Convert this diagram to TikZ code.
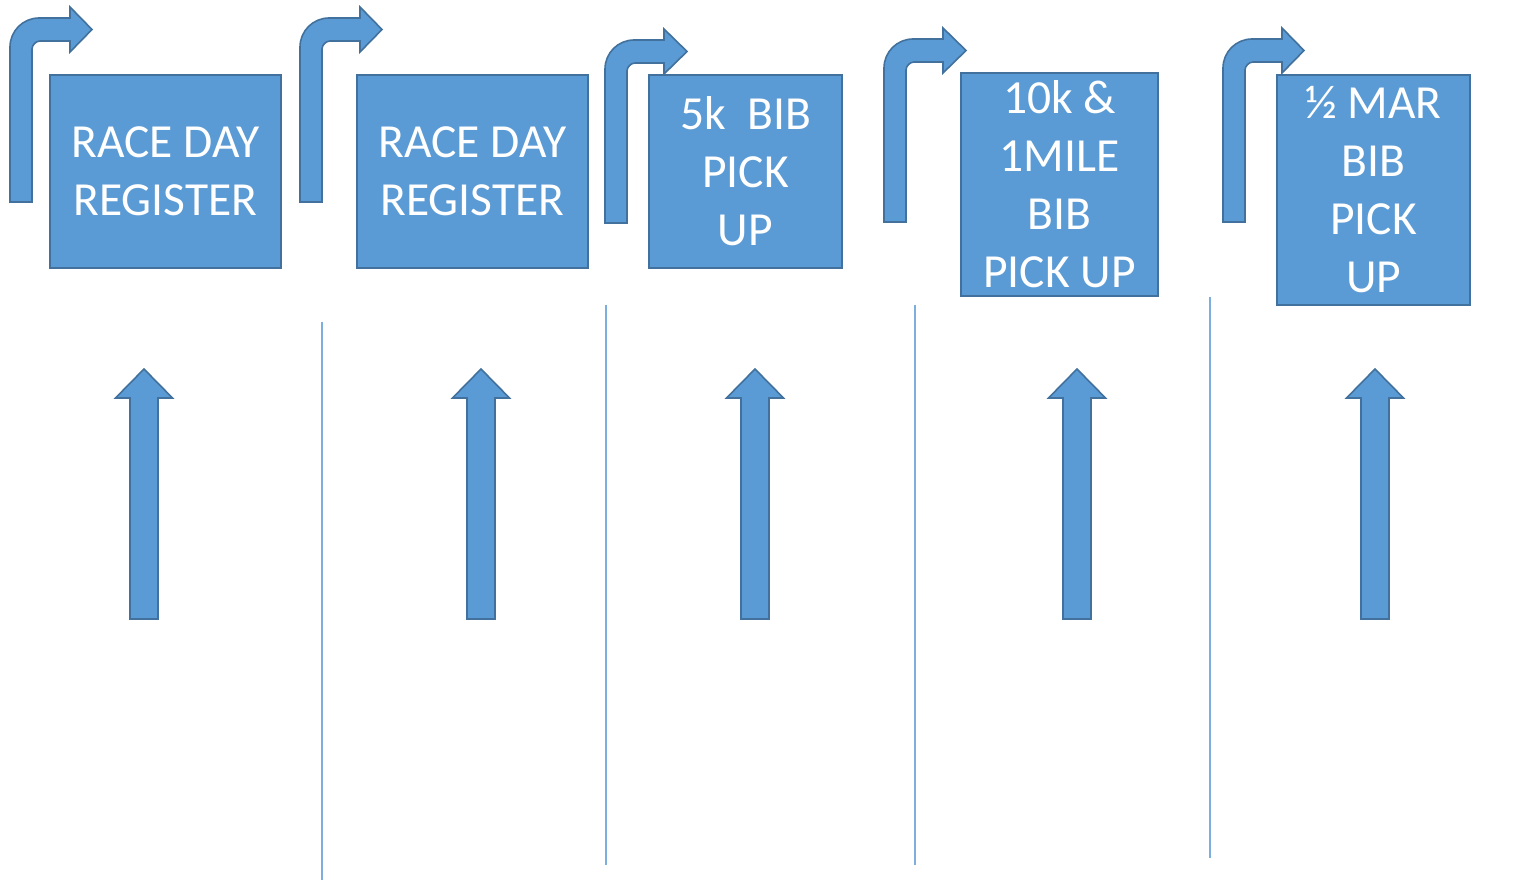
\documentclass[tikz,border=0pt]{standalone}
\usepackage{fontspec}
\setmainfont{Carlito}
\definecolor{boxfill}{HTML}{5B9BD5}
\definecolor{boxline}{HTML}{41719C}
\tikzset{
  box/.style={draw=boxline, fill=boxfill, line width=1.6pt, text=white, align=center,
    font=\fontsize{47.5}{58}\selectfont, inner sep=0pt},
  blockarrow/.style={draw=boxline, fill=boxfill, line width=1.6pt, line join=miter},
  divider/.style={draw=boxfill!80!white, line width=1.1pt}
}
% bent arrow: #1 stem left x, #2 bottom y, #3 shaft top y, #4 head base x, #5 tip x
\newcommand\bentarr[5]{%
  \path[blockarrow] (#1,#2) -- (#1,{#3+29})
    .. controls (#1,{#3+13}) and ({#1+13},#3) .. ({#1+29},#3)
    -- (#4,#3) -- (#4,{#3-11}) -- (#5,{#3+11.5}) -- (#4,{#3+34}) -- (#4,{#3+23})
    -- ({#1+30},{#3+23}) .. controls ({#1+26},{#3+23}) and ({#1+22},{#3+27}) .. ({#1+22},{#3+31})
    -- ({#1+22},#2) -- cycle;}
% up arrow: #1 centre x
\newcommand\uparr[1]{%
  \path[blockarrow] ({#1-14},619) -- ({#1-14},398) -- ({#1-28.5},398) -- (#1,369)
    -- ({#1+28.5},398) -- ({#1+14},398) -- ({#1+14},619) -- cycle;}
\begin{document}
\begin{tikzpicture}[x=1pt,y=-1pt]
\useasboundingbox (0,0) rectangle (1527,880);
% dividers
\coordinate (d1t) at (322,322); \coordinate (d1b) at (322,880);
\coordinate (d2t) at (606,305); \coordinate (d2b) at (606,865);
\coordinate (d3t) at (915,305); \coordinate (d3b) at (915,865);
\coordinate (d4t) at (1210,297); \coordinate (d4b) at (1210,858);
\draw[divider] (d1t) -- (d1b);
\draw[divider] (d2t) -- (d2b);
\draw[divider] (d3t) -- (d3b);
\draw[divider] (d4t) -- (d4b);
% bent arrows
\bentarr{10}{202}{18}{70}{92}
\bentarr{300}{202}{18}{360}{382}
\bentarr{605}{223}{40}{664}{687}
\bentarr{884}{222}{39}{943}{966}
\bentarr{1223}{222}{39}{1282}{1304}
% boxes
\node[box, minimum width=231pt, minimum height=193pt] (b1) at (165.5,171.5) {RACE DAY\\REGISTER};
\node[box, minimum width=231pt, minimum height=193pt] (b2) at (472.5,171.5) {RACE DAY\\REGISTER};
\node[box, minimum width=193pt, minimum height=193pt] (b3) at (745.5,171.5) {5k\ \ BIB\\PICK\\UP};
\node[box, minimum width=197pt, minimum height=223pt] (b4) at (1059.5,184.5) {10k \&\\1MILE\\BIB\\PICK UP};
\node[box, minimum width=193pt, minimum height=230pt] (b5) at (1373.5,190) {½ MAR\\BIB\\PICK\\UP};
% up arrows
\uparr{144}
\uparr{481}
\uparr{755}
\uparr{1077}
\uparr{1375}
\end{tikzpicture}
\end{document}
